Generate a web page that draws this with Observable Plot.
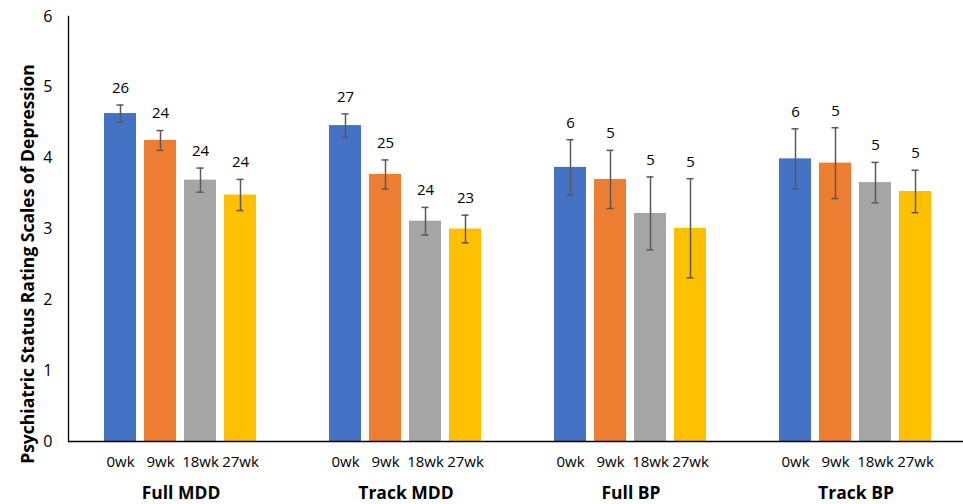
<!DOCTYPE html>
<html><head><meta charset="utf-8">
<script src="https://cdn.jsdelivr.net/npm/d3@7"></script>
<script src="https://cdn.jsdelivr.net/npm/@observablehq/plot@0.6"></script>
<style>body{margin:0;background:#fff;overflow:hidden}</style>
</head><body><div id="chart"></div>
<script>
const groups = ["Full MDD", "Track MDD", "Full BP", "Track BP"];
const weeks = ["0wk", "9wk", "18wk", "27wk"];
const meansFullMDD = [4.63, 4.25, 3.69, 3.48];
const meansTrackMDD = [4.46, 3.77, 3.11, 3.00];
const meansFullBP = [3.87, 3.70, 3.22, 3.01];
const meansTrackBP = [3.99, 3.93, 3.655, 3.53];
const errFullMDD = [0.12, 0.14, 0.17, 0.22];
const errTrackMDD = [0.165, 0.205, 0.195, 0.195];
const errFullBP = [0.39, 0.41, 0.515, 0.70];
const errTrackBP = [0.424, 0.50, 0.285, 0.30];
const nFullMDD = [26, 24, 24, 24];
const nTrackMDD = [27, 25, 24, 23];
const nFullBP = [6, 5, 5, 5];
const nTrackBP = [6, 5, 5, 5];
const colors = ["#4472C4", "#ED7D31", "#A5A5A5", "#FFC000"];
const yTicks = [0, 1, 2, 3, 4, 5, 6];
const yLabel = "Psychiatric Status Rating Scales of Depression";

const means = [meansFullMDD, meansTrackMDD, meansFullBP, meansTrackBP];
const errs = [errFullMDD, errTrackMDD, errFullBP, errTrackBP];
const ns = [nFullMDD, nTrackMDD, nFullBP, nTrackBP];
const data = groups.flatMap((g, i) => weeks.map((w, j) => ({
  group: g, week: w, mean: means[i][j], err: errs[i][j], n: ns[i][j]
})));

const chart = Plot.plot({
  width: 963, height: 504,
  marginLeft: 68, marginRight: -5, marginTop: 16, marginBottom: 63,
  style: {fontFamily: "'Open Sans', sans-serif", fontSize: "15px", color: "#000", background: "#fff"},
  fx: {domain: groups, padding: 0, label: null},
  x: {domain: weeks, paddingInner: 0.19, paddingOuter: 0.86, label: null},
  y: {domain: [0, 6], label: null},
  color: {domain: weeks, range: colors},
  marks: [
    Plot.barY(data, {fx: "group", x: "week", y: "mean", fill: "week"}),
    Plot.ruleX(data, {fx: "group", x: "week", y1: d => d.mean - d.err, y2: d => d.mean + d.err, stroke: "#595959", strokeWidth: 1.5}),
    Plot.tickY(data, {fx: "group", x: "week", y: d => d.mean + d.err, stroke: "#595959", strokeWidth: 1.5, insetLeft: 12.5, insetRight: 12.5}),
    Plot.tickY(data, {fx: "group", x: "week", y: d => d.mean - d.err, stroke: "#595959", strokeWidth: 1.5, insetLeft: 12.5, insetRight: 12.5}),
    Plot.text(data, {fx: "group", x: "week", y: d => d.mean + d.err, text: "n", dy: -17, fontSize: 15, fill: "#000"}),
    Plot.ruleY([0], {stroke: "#000", strokeWidth: 1.3}),
    Plot.frame({anchor: "left", facetAnchor: "left", stroke: "#000", strokeWidth: 1.3}),
    Plot.axisX({tickSize: 0, tickPadding: 15, label: null, fontSize: 15}),
    Plot.axisFx({anchor: "bottom", tickSize: 0, tickPadding: 45, label: null, fontSize: 17.5, fontWeight: "bold"}),
    Plot.axisY({ticks: yTicks, tickFormat: d3.format("d"), tickSize: 0, tickPadding: 16, fontSize: 16, label: null}),
    Plot.text([yLabel], {frameAnchor: "left", facetAnchor: "left", textAnchor: "middle", rotate: -90, dx: -40, dy: 35, fontWeight: "bold", fontSize: 17.5, fill: "#000"})
  ]
});
document.getElementById("chart").appendChild(chart);
</script>
</body></html>
